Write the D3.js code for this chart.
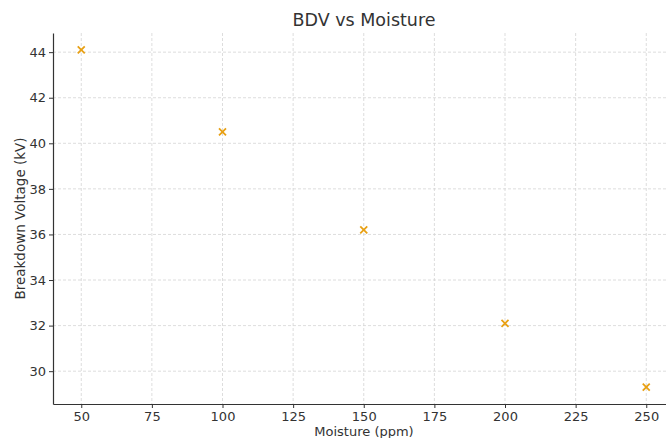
<!DOCTYPE html>
<html>
<head>
<meta charset="utf-8">
<script src="https://cdn.jsdelivr.net/npm/d3@7"></script>
<style>
body { margin: 0; background: #fff; }
text { font-family: "DejaVu Sans", sans-serif; }
</style>
</head>
<body>
<div id="chart"></div>
<script>
// values
var moisture = [50, 100, 150, 200, 250];
var bdv = [44.1, 40.5, 36.2, 32.1, 29.3];
var xTicks = [50, 75, 100, 125, 150, 175, 200, 225, 250];
var yTicks = [30, 32, 34, 36, 38, 40, 42, 44];

var W = 666, H = 438;
var plotLeft = 53, plotTop = 33, plotBottom = 404;

var svg = d3.select('#chart').append('svg')
    .attr('width', W)
    .attr('height', H);

var x = d3.scaleLinear().domain([40, 260]).range([plotLeft, 674.5]);
var y = d3.scaleLinear().domain([28.56, 44.84]).range([plotBottom, plotTop]);

// grid
var grid = svg.append('g').attr('stroke', '#d4d4d4').attr('stroke-width', 0.8)
    .attr('stroke-dasharray', '3,2');
grid.selectAll('.gx').data(xTicks).enter().append('line')
    .attr('x1', function(d){ return x(d); })
    .attr('x2', function(d){ return x(d); })
    .attr('y1', plotTop).attr('y2', plotBottom);
grid.selectAll('.gy').data(yTicks).enter().append('line')
    .attr('x1', plotLeft).attr('x2', W)
    .attr('y1', function(d){ return y(d); })
    .attr('y2', function(d){ return y(d); });

// axes
var xAxis = svg.append('g')
    .attr('transform', 'translate(0,' + plotBottom + ')')
    .call(d3.axisBottom(x).tickValues(xTicks).tickSize(4).tickPadding(4).tickSizeOuter(0));
var yAxis = svg.append('g')
    .attr('transform', 'translate(' + plotLeft + ',0)')
    .call(d3.axisLeft(y).tickValues(yTicks).tickSize(4).tickPadding(3).tickSizeOuter(0));

[xAxis, yAxis].forEach(function(a){
    a.select('.domain').attr('stroke', '#333').attr('stroke-width', 1.2);
    a.selectAll('.tick line').attr('stroke', '#333');
    a.selectAll('.tick text').attr('fill', '#333').style('font-size', '13px')
        .style('font-family', '"DejaVu Sans", sans-serif');
});

// markers
var s = 3.5;
var pts = svg.append('g').selectAll('g').data(moisture).enter().append('g')
    .attr('transform', function(d, i){
        return 'translate(' + x(d) + ',' + y(bdv[i]) + ')';
    })
    .attr('stroke', '#e8a014')
    .attr('stroke-width', 1.7);
pts.append('line').attr('x1', -s).attr('y1', -s).attr('x2', s).attr('y2', s);
pts.append('line').attr('x1', -s).attr('y1', s).attr('x2', s).attr('y2', -s);

// labels
svg.append('text')
    .attr('x', 364).attr('y', 26)
    .attr('text-anchor', 'middle')
    .attr('fill', '#333')
    .style('font-size', '17.5px')
    .text('BDV vs Moisture');

svg.append('text')
    .attr('x', 364).attr('y', 436)
    .attr('text-anchor', 'middle')
    .attr('fill', '#333')
    .style('font-size', '13px')
    .text('Moisture (ppm)');

svg.append('text')
    .attr('transform', 'translate(25,' + ((plotTop + plotBottom) / 2) + ') rotate(-90)')
    .attr('text-anchor', 'middle')
    .attr('fill', '#333')
    .style('font-size', '13.5px')
    .text('Breakdown Voltage (kV)');
</script>
</body>
</html>
